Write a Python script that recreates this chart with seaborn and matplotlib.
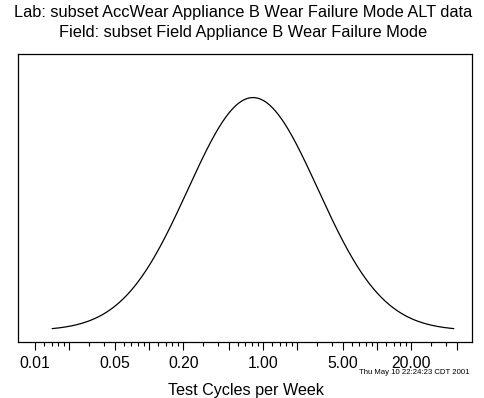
import numpy as np
import pandas as pd
import matplotlib
matplotlib.use("Agg")
import matplotlib.pyplot as plt
import seaborn as sns
from matplotlib.ticker import FixedLocator, FixedFormatter, NullFormatter

# ---- content ----
title_lines = ["Lab: subset AccWear Appliance B Wear Failure Mode ALT data",
               "Field: subset Field Appliance B Wear Failure Mode"]
x_label = "Test Cycles per Week"
stamp = "Thu May 10 22:24:23 CDT 2001"
label_values = [0.01, 0.05, 0.20, 1.00, 5.00, 20.00]
label_texts = ["0.01", "0.05", "0.20", "1.00", "5.00", "20.00"]
major_values = [0.01, 0.02, 0.05, 0.1, 0.2, 0.5, 1, 2, 5, 10, 20, 50]
minor_subs = [1.2, 1.4, 1.6, 1.8, 3, 4, 6, 7, 8, 9]
decades = [0.01, 0.1, 1, 10]

# lognormal distribution (log10 scale)
mu_log10 = -0.088      # median ~0.82 cycles/week
sigma_log10 = 0.57
z_span = 3.09          # curve drawn between 0.001 and 0.999 quantiles

# ---- curve ----
logx = np.linspace(mu_log10 - z_span * sigma_log10, mu_log10 + z_span * sigma_log10, 400)
z = (logx - mu_log10) / sigma_log10
dens = np.exp(-0.5 * z ** 2) / (sigma_log10 * np.sqrt(2 * np.pi))
df = pd.DataFrame({"x": 10 ** logx, "density": dens})
peak = dens.max()

sns.set_theme(style="white")
plt.rcParams["font.family"] = ["Liberation Sans", "DejaVu Sans"]
plt.rcParams["text.color"] = "black"

W, H = 485, 398
fig = plt.figure(figsize=(W / 100, H / 100), dpi=100)
ax = fig.add_axes([18 / W, 1 - 342 / H, (472 - 18) / W, (342 - 54) / H])

sns.lineplot(data=df, x="x", y="density", ax=ax, color="black", linewidth=0.9,
             sort=False, estimator=None)
ax.set_xscale("log")
ax.set_xlim(0.0071, 68)
ax.set_ylim(-0.049 * peak, 1.187 * peak)

ax.xaxis.set_major_locator(FixedLocator(major_values))
maj_labels = [label_texts[label_values.index(v)] if v in label_values else "" for v in major_values]
ax.xaxis.set_major_formatter(FixedFormatter(maj_labels))
minors = [d * s for d in decades for s in minor_subs if d * s < 50]
ax.xaxis.set_minor_locator(FixedLocator(minors))
ax.xaxis.set_minor_formatter(NullFormatter())
ax.tick_params(axis="x", which="major", length=6, width=0.8, direction="out",
               bottom=True, labelsize=11.3, pad=4, colors="black")
ax.tick_params(axis="x", which="minor", length=3, width=0.8, direction="out",
               bottom=True, colors="black")
ax.set_yticks([])
ax.set_ylabel("")
ax.set_xlabel("")
for sp in ax.spines.values():
    sp.set_visible(True)
    sp.set_color("black")
    sp.set_linewidth(0.9)

fig.text(243 / W, 1 - 13 / H, title_lines[0], ha="center", va="center",
         fontsize=11.8, color="black")
fig.text(243 / W, 1 - 33 / H, title_lines[1], ha="center", va="center",
         fontsize=11.8, color="black")
fig.text(246 / W, 1 - 390 / H, x_label, ha="center", va="center",
         fontsize=11.6, color="black")
fig.text(470 / W, 1 - 373 / H, stamp, ha="right", va="center",
         fontsize=5.6, color="black")

fig.savefig("out.png", dpi=100, facecolor="white")
